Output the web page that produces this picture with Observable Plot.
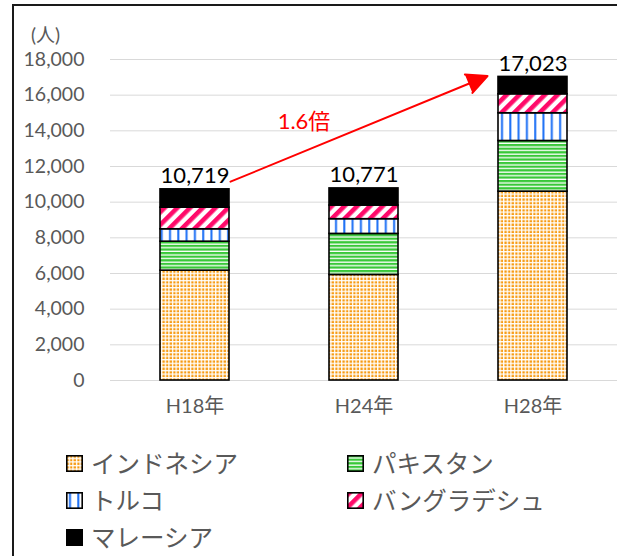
<!DOCTYPE html>
<html>
<head>
<meta charset="utf-8">
<script src="https://cdn.jsdelivr.net/npm/d3@7"></script>
<script src="https://cdn.jsdelivr.net/npm/@observablehq/plot@0.6"></script>
<style>
  body { margin: 0; background: #fff; }
  #wrap { position: relative; width: 617px; height: 556px; overflow: hidden; background: #fff;
          font-family: Lato, "Noto Sans CJK JP", sans-serif; }
  #frame { position: absolute; left: 12px; top: 4px; width: 700px; height: 700px;
           border-left: 2px solid #1a1a1a; border-top: 2px solid #1a1a1a; pointer-events: none; }
  #chart { position: absolute; left: 0; top: 0; }
  #unit { position: absolute; left: 31px; top: 20px; font-size: 19px; color: #595959;
          font-family: Lato, "Noto Sans CJK JP", sans-serif; }
  .leg { position: absolute; display: flex; align-items: center; font-size: 24.5px; color: #595959;
         font-family: "Noto Sans CJK JP", sans-serif; line-height: 1; }
  .leg svg { margin-right: 8px; flex: none; }
</style>
</head>
<body>
<div id="wrap">
  <div id="chart"></div>
  <div id="unit">(人)</div>
  <div id="legend"></div>
  <div id="frame"></div>
</div>
<script>
// ---- data ----
const YEARS = ["H18年", "H24年", "H28年"];
const COUNTRIES = ["インドネシア", "パキスタン", "トルコ", "バングラデシュ", "マレーシア"];
const INDONESIA  = [6160, 5920, 10590];
const PAKISTAN   = [1625, 2300, 2840];
const TURKEY     = [695, 825, 1555];
const BANGLADESH = [1212, 765, 1065];
const MALAYSIA   = [1027, 961, 973];
const TOTALS     = [10719, 10771, 17023];
const Y_TICKS    = [0, 2000, 4000, 6000, 8000, 10000, 12000, 14000, 16000, 18000];
const ANNOTATION = ["1.6倍"];
// arrow annotation endpoints in data units (from H18 to H28)
const ARROW_FROM = ["H18年", 10329];
const ARROW_TO   = ["H28年", 18125];
const LABEL_AT   = ["H24年", 14500];

const SERIES = [INDONESIA, PAKISTAN, TURKEY, BANGLADESH, MALAYSIA];
const rows = [];
YEARS.forEach((yr, i) => {
  COUNTRIES.forEach((c, j) => rows.push({year: yr, country: c, value: SERIES[j][i]}));
});
const totals = YEARS.map((yr, i) => ({year: yr, total: TOTALS[i]}));

// ---- patterns ----
function patternDefs(prefix) {
  return `
  <pattern id="${prefix}0" patternUnits="userSpaceOnUse" width="3.6" height="3.6">
    <rect width="3.6" height="3.6" fill="#fff"/>
    <rect x="0.4" y="0.4" width="2.3" height="2.3" fill="#f79a10"/>
  </pattern>
  <pattern id="${prefix}1" patternUnits="userSpaceOnUse" width="4" height="3.6">
    <rect width="4" height="3.6" fill="#38c838"/>
    <rect y="2.3" width="4" height="1.3" fill="#ffffff"/>
  </pattern>
  <pattern id="${prefix}2" patternUnits="userSpaceOnUse" width="8.3" height="8">
    <rect width="8.3" height="8" fill="#fff"/>
    <rect x="3" width="2" height="8" fill="#1a6ef5"/>
  </pattern>
  <pattern id="${prefix}3" patternUnits="userSpaceOnUse" width="9" height="9" patternTransform="rotate(45)">
    <rect width="9" height="9" fill="#fff"/>
    <rect width="4.6" height="9" fill="#ff0a6a"/>
  </pattern>`;
}
const FILLS = ["url(#pt0)", "url(#pt1)", "url(#pt2)", "url(#pt3)", "#000000"];

const fontStack = "Lato, 'Noto Sans CJK JP', sans-serif";

const plot = Plot.plot({
  width: 617,
  height: 431,
  marginTop: 59,
  marginBottom: 51,
  marginLeft: 110,
  marginRight: 0,
  style: {fontFamily: fontStack, fontSize: "19px", color: "#595959", background: "transparent", overflow: "visible"},
  x: {domain: YEARS, paddingInner: 0.592, paddingOuter: 0.296, label: null},
  y: {domain: [0, 18000], label: null},
  color: {domain: COUNTRIES, range: FILLS},
  marks: [
    Plot.gridY(Y_TICKS, {stroke: "#d9d9d9", strokeOpacity: 1, strokeWidth: 1}),
    Plot.axisY(Y_TICKS, {tickSize: 0, tickPadding: 26, tickFormat: d3.format(","), fontSize: 19.5, fill: "#595959", label: null}),
    Plot.axisX({tickSize: 0, tickPadding: 18, fontSize: 20, fill: "#595959", label: null}),
    Plot.barY(rows, {x: "year", y: "value", fill: "country", stroke: "black", strokeWidth: 1.6}),
    Plot.text(totals, {x: "year", y: "total", text: d => d3.format(",")(d.total), lineAnchor: "bottom", dy: -6, fill: "black", fontSize: 22}),
    Plot.arrow([{}], {
      x1: () => ARROW_FROM[0], y1: () => ARROW_FROM[1],
      x2: () => ARROW_TO[0], y2: () => ARROW_TO[1],
      stroke: "#ff0000", fill: "#ff0000", strokeWidth: 2,
      insetStart: 38.4, insetEnd: 49.2, headLength: 17, headAngle: 52, bend: 0
    }),
    Plot.text(ANNOTATION, {x: () => LABEL_AT[0], y: () => LABEL_AT[1], text: d => d, dx: -60, fill: "#ff0000", fontSize: 22})
  ]
});
const defs = document.createElementNS("http://www.w3.org/2000/svg", "defs");
defs.innerHTML = patternDefs("pt");
plot.insertBefore(defs, plot.firstChild);
document.getElementById("chart").appendChild(plot);

// ---- legend ----
const legendPos = [
  [66, 463], [347, 463],
  [66, 500], [347, 500],
  [66, 537]
];
const legend = document.getElementById("legend");
COUNTRIES.forEach((c, j) => {
  const [lx, ly] = legendPos[j];
  const el = document.createElement("div");
  el.className = "leg";
  el.style.left = lx + "px";
  el.style.top = (ly - 14) + "px";
  el.style.height = "28px";
  const fill = j < 4 ? `url(#lg${j}_${j})` : "#000";
  el.innerHTML = `<svg width="17" height="17"><defs>${patternDefs("lg" + j + "_")}</defs>
     <rect x="0.8" y="0.8" width="15.4" height="15.4" fill="${fill}" stroke="#000" stroke-width="1.6"/></svg><span>${c}</span>`;
  legend.appendChild(el);
});
</script>
</body>
</html>
